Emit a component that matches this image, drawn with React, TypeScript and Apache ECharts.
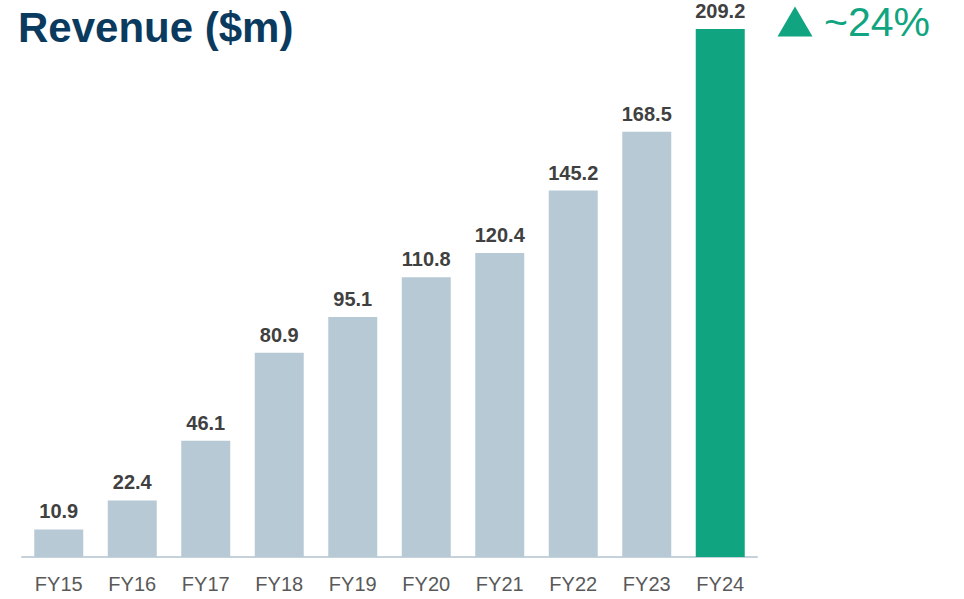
import React, { useEffect, useRef } from "react";
import * as echarts from "echarts";

const categories = ["FY15", "FY16", "FY17", "FY18", "FY19", "FY20", "FY21", "FY22", "FY23", "FY24"];
const revenue = [10.9, 22.4, 46.1, 80.9, 95.1, 110.8, 120.4, 145.2, 168.5, 209.2];
const highlighted = ["FY24"];
const titleText = "Revenue ($m)";
const growthText = "~24%";

const GREY = "#b8c9d6";
const GREEN = "#10a480";

export default function App() {
  const ref = useRef<HTMLDivElement>(null);
  useEffect(() => {
    if (!ref.current) return;
    const chart = echarts.init(ref.current, null, { renderer: "svg" });
    chart.setOption({
      animation: false,
      backgroundColor: "#ffffff",
      textStyle: { fontFamily: "Arial, 'Liberation Sans', sans-serif" },
      grid: { left: 22, right: 207, top: 29, bottom: 42, containLabel: false },
      xAxis: {
        type: "category",
        data: categories,
        axisLine: { lineStyle: { color: "#c5d2dc", width: 2 } },
        axisTick: { show: false },
        axisLabel: { color: "#595959", fontSize: 20, margin: 17 },
      },
      yAxis: {
        type: "value",
        min: 0,
        max: 209.2,
        show: false,
        splitLine: { show: false },
      },
      series: [
        {
          type: "bar",
          barWidth: 49,
          data: revenue.map((v, i) => ({
            value: v,
            itemStyle: { color: highlighted.includes(categories[i]) ? GREEN : GREY },
          })),
          label: {
            show: true,
            position: "top",
            distance: 8,
            fontSize: 20,
            fontWeight: "bold",
            color: "#404040",
            formatter: (p: any) => p.value.toFixed(1),
          },
        },
      ],
      graphic: [
        {
          type: "text",
          left: 18,
          top: 6,
          style: {
            text: titleText,
            font: "bold 42px Arial, 'Liberation Sans', sans-serif",
            fill: "#0b3a5f",
          },
        },
        {
          type: "polygon",
          shape: { points: [[777.5, 36.5], [812.5, 36.5], [795, 6.5]] },
          style: { fill: GREEN },
        },
        {
          type: "text",
          left: 824,
          top: 1,
          style: {
            text: growthText,
            font: "41px Arial, 'Liberation Sans', sans-serif",
            fill: GREEN,
          },
        },
      ],
    });
    return () => chart.dispose();
  }, []);
  return <div ref={ref} style={{ width: 964, height: 599, position: "fixed", left: 0, top: 0 }} />;
}
